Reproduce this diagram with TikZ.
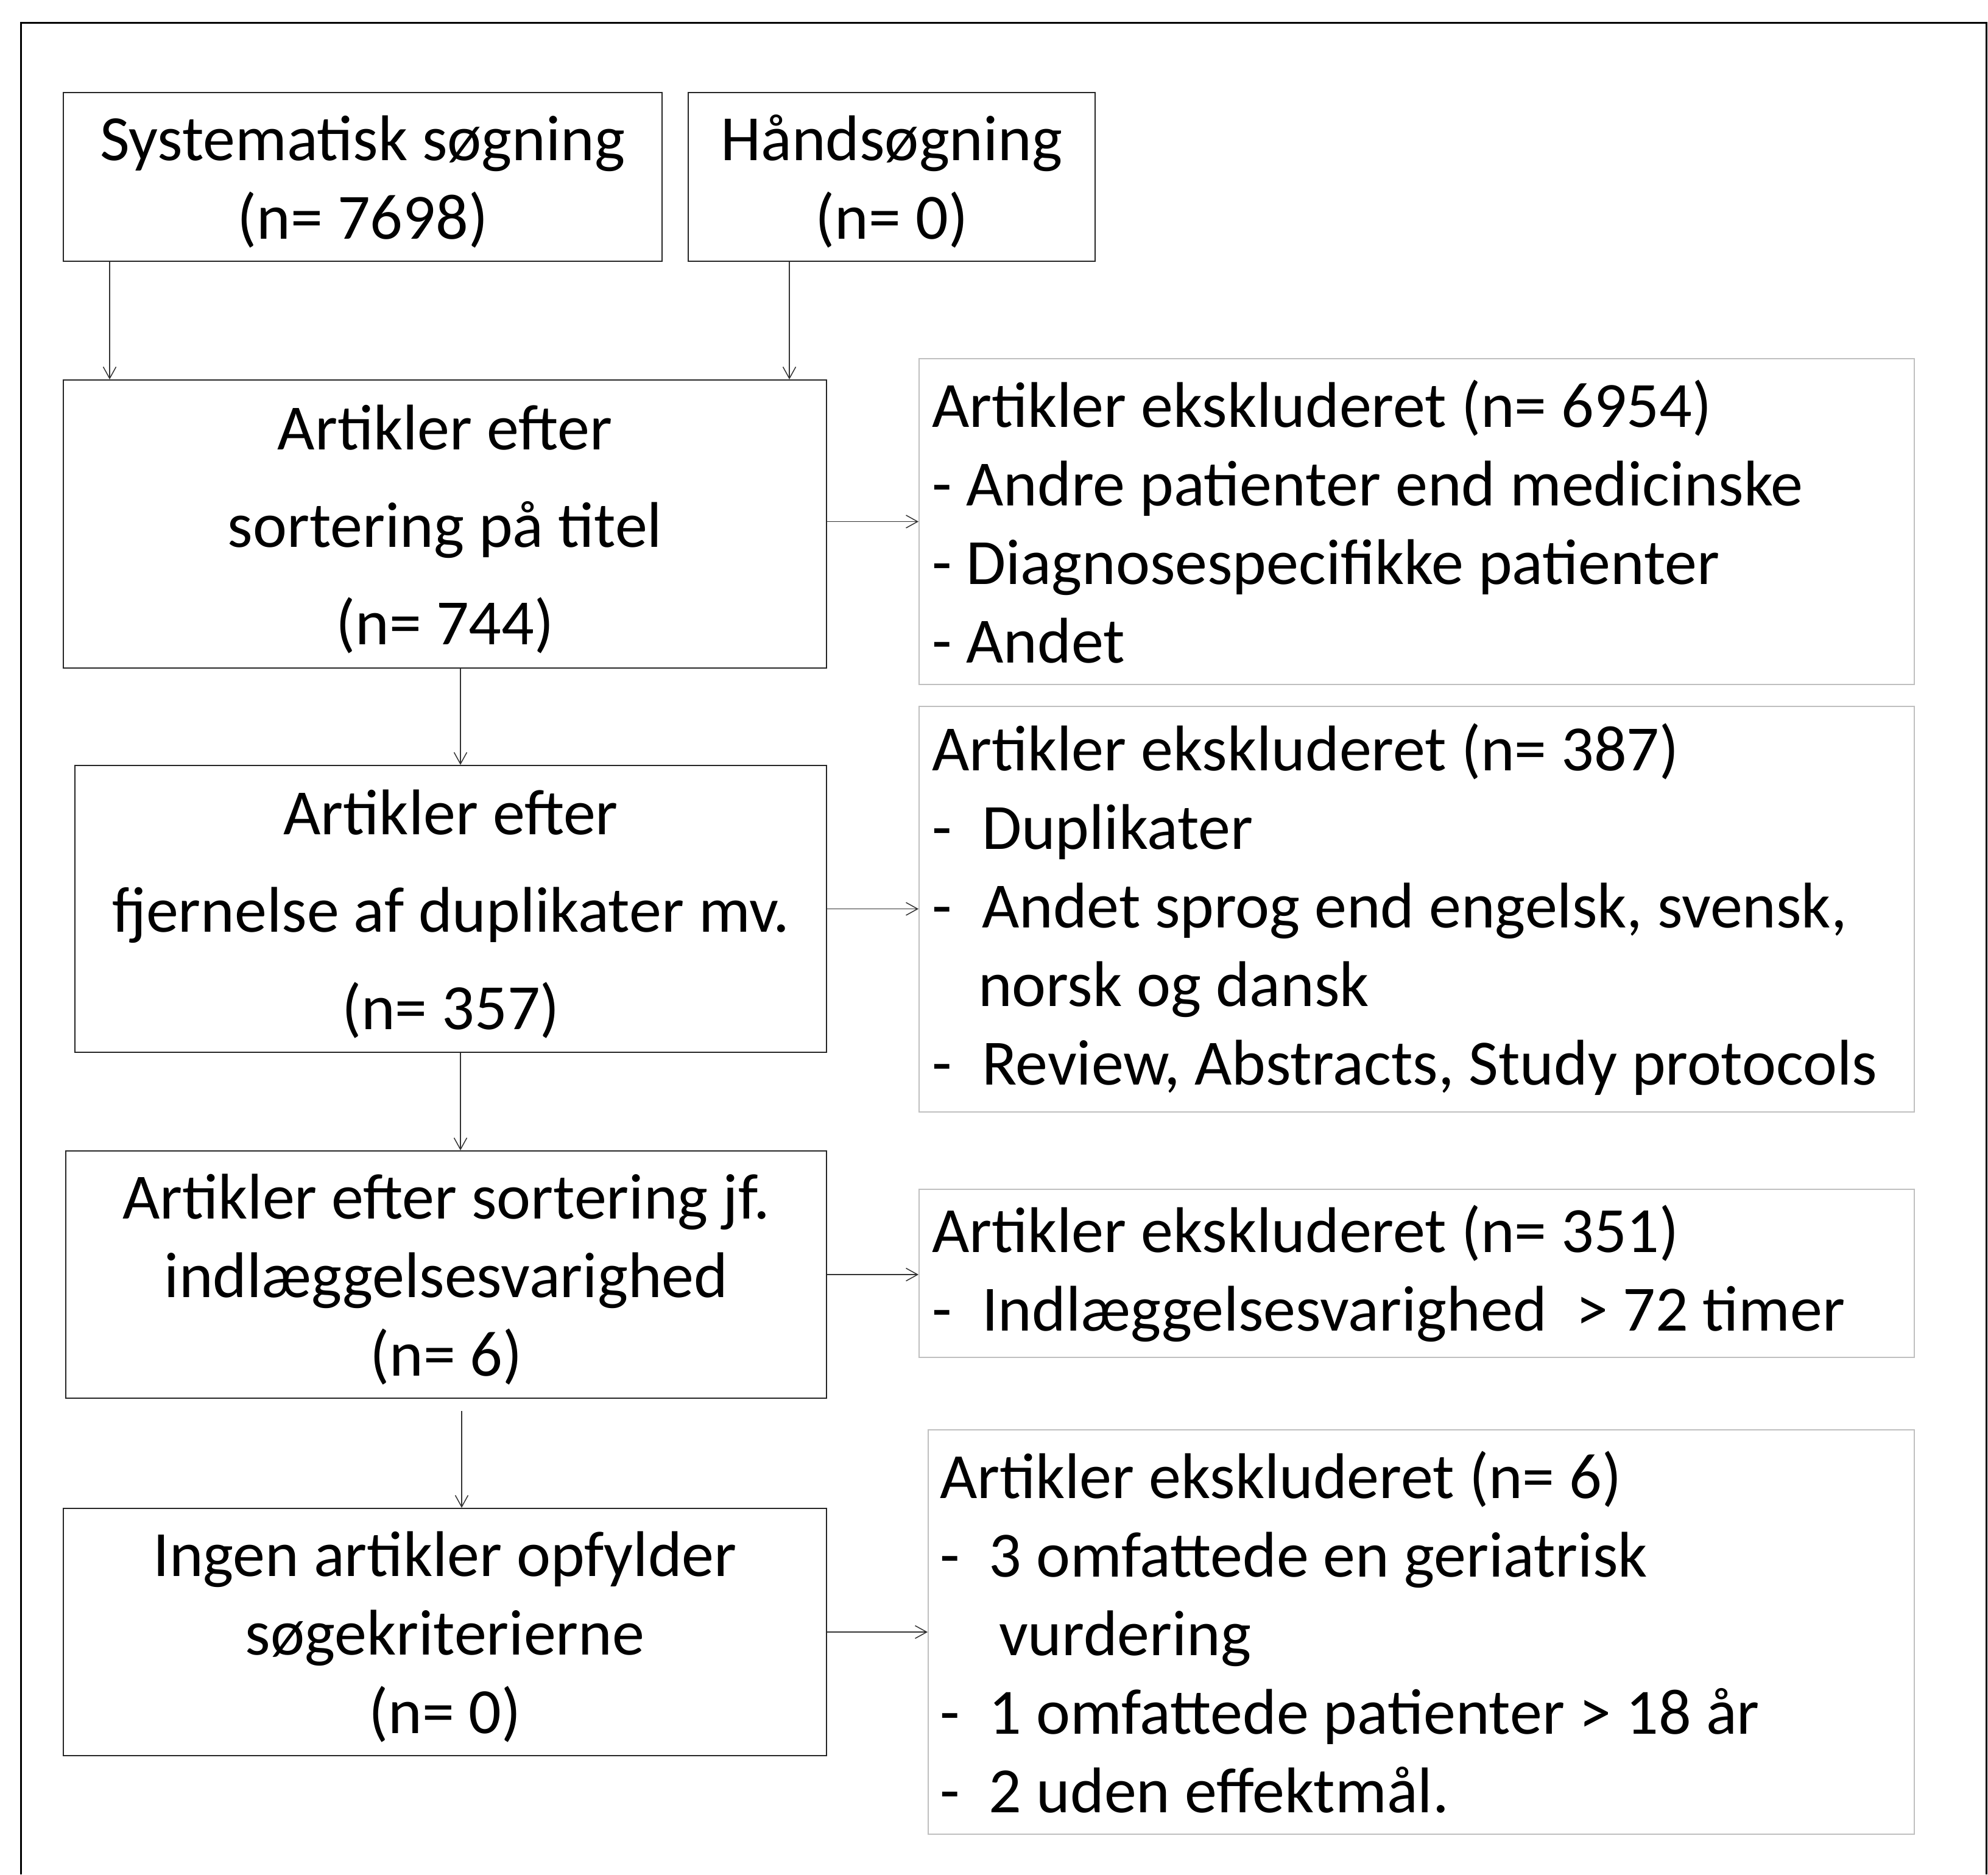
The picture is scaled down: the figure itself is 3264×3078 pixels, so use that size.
\documentclass[tikz,border=0pt]{standalone}
\usepackage{fontspec}
\setmainfont{Carlito}
\usetikzlibrary{arrows.meta, positioning}

\newcommand{\dashitem}[2][8.2pt]{\makebox[#1][l]{-}#2}
\newcommand{\topgap}{\rule{0pt}{9pt}}

\begin{document}
\begin{tikzpicture}[x=0.1pt, y=-0.1pt, >={Straight Barb[length=1.9pt, width=2.1pt]},
  every node/.style={font=\fontsize{10.6pt}{12.9pt}\selectfont, inner sep=0pt},
  flowbox/.style={draw=black!85, line width=0.2pt, align=center},
  exclbox/.style={draw=black!25, line width=0.2pt, align=flush left, inner xsep=2.1pt},
  link/.style={->, draw=black!80, line width=0.15pt}]
  \useasboundingbox (0,0) rectangle (3264,3078);
  % frame
  \draw[line width=0.3pt] (34,3078) -- (34,37) -- (3261,37) -- (3261,3078);

  % left column
  \node[flowbox, minimum width=98.3pt, minimum height=27.7pt] (sys) at (595.5,290.5)
    {\topgap Systematisk søgning\\(n= 7698)};
  \node[flowbox, minimum width=66.8pt, minimum height=27.7pt] (hand) at (1464,290.5)
    {\topgap Håndsøgning\\(n= 0)};
  \node[flowbox, minimum width=125.3pt, minimum height=47.3pt,
        font=\fontsize{10.6pt}{16pt}\selectfont] (titel) at (730.5,860.5)
    {\topgap Artikler efter\\sortering på titel\\(n= 744)};
  \node[flowbox, minimum width=123.4pt, minimum height=47.1pt,
        font=\fontsize{10.6pt}{16pt}\selectfont] (dupl) at (740,1492.5)
    {\topgap Artikler efter\\fjernelse af duplikater mv.\\(n= 357)};
  \node[flowbox, minimum width=124.9pt, minimum height=40.6pt] (varig) at (732.5,2093)
    {\topgap Artikler efter sortering jf.\\indlæggelsesvarighed\\(n= 6)};
  \node[flowbox, minimum width=125.3pt, minimum height=40.6pt] (ingen) at (730.5,2680)
    {\topgap Ingen artikler opfylder\\søgekriterierne\\(n= 0)};

  % right column
  \node[exclbox, text width=159.2pt, minimum height=53.5pt] (ex1) at (2326,856.5)
    {Artikler ekskluderet (n= 6954)\\- Andre patienter end medicinske\\
     - Diagnosespecifikke patienter\\- Andet};
  \node[exclbox, text width=159.2pt, minimum height=66.6pt] (ex2) at (2326,1493)
    {Artikler ekskluderet (n= 387)\\\dashitem{Duplikater}\\
     \dashitem{Andet sprog end engelsk, svensk,}\\\hspace*{7.6pt}norsk og dansk\\
     \dashitem{Review, Abstracts, Study protocols}};
  \node[exclbox, text width=159.2pt, minimum height=27.6pt] (ex3) at (2326,2091)
    {Artikler ekskluderet (n= 351)\\\dashitem{Indlæggelsesvarighed\ \ > 72 timer}};
  \node[exclbox, inner xsep=1.9pt, text width=158.1pt, minimum height=66.4pt] (ex4) at (2333.5,2680)
    {Artikler ekskluderet (n= 6)\\\dashitem[8.1pt]{3 omfattede en geriatrisk}\\
     \hspace*{9.7pt}vurdering\\\dashitem[8.1pt]{1 omfattede patienter > 18 år}\\
     \dashitem[8.1pt]{2 uden effektmål.}};

  % connectors
  \draw[link] ([xshift=7.7pt]sys.south west) -- ([xshift=7.7pt]sys.south west |- titel.north);
  \draw[link] ([xshift=16.7pt]hand.south west) -- ([xshift=16.7pt]hand.south west |- titel.north);
  \draw[link] ([xshift=2.55pt]titel.south) -- ([xshift=2.55pt]titel.south |- dupl.north);
  \draw[link] ([xshift=1.6pt]dupl.south) -- ([xshift=1.6pt]dupl.south |- varig.north);
  \draw[link, shorten <=2pt] ([xshift=2.55pt]varig.south) -- ([xshift=2.55pt]varig.south |- ingen.north);
  \draw[link] (ex1.west -| titel.east) -- (ex1.west);
  \draw[link] (dupl.east) -- (dupl.east -| ex2.west);
  \draw[link] (varig.east) -- (varig.east -| ex3.west);
  \draw[link] (ingen.east) -- (ingen.east -| ex4.west);
\end{tikzpicture}
\end{document}
